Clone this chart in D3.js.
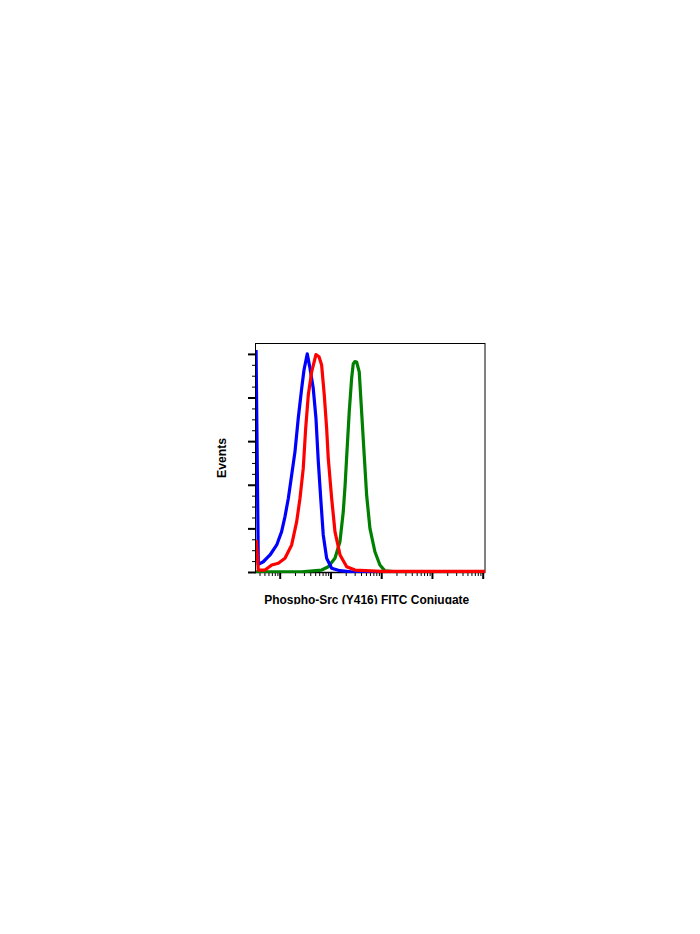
<!DOCTYPE html>
<html>
<head>
<meta charset="utf-8">
<script src="https://cdn.jsdelivr.net/npm/d3@7"></script>
<style>
  html, body { margin: 0; padding: 0; background: #fff; }
  svg { display: block; }
</style>
</head>
<body>
<svg id="chart" width="700" height="934"></svg>
<script>
// ---- data (fluorescence intensity, % of max) ----
const blueX  = [3.42, 3.79, 4.75, 6.44, 8.73, 10.9, 12.7, 14.8, 17.2, 20.0, 23.2, 27.1, 30.1, 34.9, 39.5, 45.8, 51.8, 57.6, 65.0, 72.1, 84.1, 105.6, 153.8, 281, 1000, 111000];
const blueY  = [101.8, 3.5, 4.7, 7.8, 12.4, 18.5, 25.4, 33.8, 44.5, 55.2, 70.5, 84.2, 92.6, 100, 93.4, 84.2, 70.5, 50.6, 32.2, 17.0, 6.3, 1.7, 0.6, 0, 0, 0];

const redX   = [3.45, 3.79, 5.14, 6.96, 9.39, 12.7, 17.2, 21.6, 25.1, 29.1, 32.5, 36.6, 42.6, 51.8, 59.5, 67.0, 75.5, 84.1, 90.4, 105.6, 122.7, 154.5, 208.9, 304.9, 1000, 111000];
const redY   = [14.7, 0.9, 0.9, 3.2, 4.0, 6.3, 12.4, 23.1, 33.8, 47.5, 65.9, 81.2, 91.8, 99.7, 98.7, 94.9, 81.2, 65.9, 52.3, 33.8, 18.5, 7.8, 2.4, 0.9, 0.3, 0.3];

const greenX = [3.42, 27.1, 67.1, 90.6, 122.7, 153.8, 178.6, 194.5, 209.5, 234.5, 261.3, 281.1, 303.5, 327.9, 369, 411, 462.5, 516, 599.5, 751.8, 942.6, 1183, 2000, 111000];
const greenY = [0.1, 0.1, 0.9, 2.4, 6.3, 13.9, 27.5, 39.9, 53.6, 73.5, 88.8, 95.4, 96.5, 96.3, 91.8, 73.5, 53.6, 35.3, 20.0, 9.3, 3.2, 0.5, 0.1, 0.1];

const xMajorTicks = [10, 100, 1000, 10000, 100000];
const yMajorTicks = [0, 20, 40, 60, 80, 100];
const yMinorTicks = [5, 10, 15, 25, 30, 35, 45, 50, 55, 65, 70, 75, 85, 90, 95];

const xLabel = "Phospho-Src (Y416) FITC Conjugate";
const yLabel = "Events";

// ---- drawing ----
(function () {
const svg = d3.select("#chart");
svg.append("rect").attr("width", 700).attr("height", 934).attr("fill", "#fff");

const pL = 256, pR = 485, pT = 343, pB = 572;
const x = d3.scaleLog().domain([3.41, 111000]).range([pL, pR]);
const y = d3.scaleLinear().domain([0, 105]).range([pB, pT]);

// minor x ticks: k * 10^n inside domain
const xMinorTicks = [];
for (let e = 0; e <= 5; e++) {
  for (let k = 2; k <= 9; k++) {
    const v = k * Math.pow(10, e);
    if (v >= x.domain()[0] && v <= x.domain()[1]) xMinorTicks.push(v);
  }
}

// clip for curves
svg.append("clipPath").attr("id", "plotclip")
  .append("rect").attr("x", pL).attr("y", pT - 2).attr("width", pR - pL).attr("height", pB - pT + 3);

// x axis (major & minor)
svg.append("g").attr("transform", `translate(0,${pB})`)
  .call(d3.axisBottom(x).tickValues(xMinorTicks).tickSize(4).tickFormat(""))
  .call(g => g.select(".domain").remove())
  .call(g => g.selectAll(".tick line").attr("stroke", "#000").attr("stroke-width", 1));
svg.append("g").attr("transform", `translate(0,${pB})`)
  .call(d3.axisBottom(x).tickValues(xMajorTicks).tickSize(7).tickFormat(""))
  .call(g => g.select(".domain").remove())
  .call(g => g.selectAll(".tick line").attr("stroke", "#000").attr("stroke-width", 2));

// y axis (major & minor)
svg.append("g").attr("transform", `translate(${pL},0)`)
  .call(d3.axisLeft(y).tickValues(yMinorTicks).tickSize(4).tickFormat(""))
  .call(g => g.select(".domain").remove())
  .call(g => g.selectAll(".tick line").attr("stroke", "#000").attr("stroke-width", 1));
svg.append("g").attr("transform", `translate(${pL},0)`)
  .call(d3.axisLeft(y).tickValues(yMajorTicks).tickSize(8).tickFormat(""))
  .call(g => g.select(".domain").remove())
  .call(g => g.selectAll(".tick line").attr("stroke", "#000").attr("stroke-width", 2));

// frame
svg.append("rect")
  .attr("x", pL - 0.5).attr("y", pT + 0.5)
  .attr("width", pR - pL + 0.5).attr("height", pB - pT)
  .attr("fill", "none").attr("stroke", "#000").attr("stroke-width", 1);
svg.append("line").attr("x1", pL - 0.5).attr("x2", pR).attr("y1", pB + 0.5).attr("y2", pB + 0.5)
  .attr("stroke", "#000").attr("stroke-width", 1.5);

// curves
const line = d3.line().x(d => x(d[0])).y(d => y(d[1]));
const series = [
  { xs: greenX, ys: greenY, color: "#008000" },
  { xs: blueX,  ys: blueY,  color: "#0000ff" },
  { xs: redX,   ys: redY,   color: "#ff0000" }
];
const gc = svg.append("g").attr("clip-path", "url(#plotclip)");
series.forEach(s => {
  const pts = s.xs.map((v, i) => [v, s.ys[i]]);
  gc.append("path").datum(pts)
    .attr("d", line)
    .attr("fill", "none")
    .attr("stroke", s.color)
    .attr("stroke-width", 3.2)
    .attr("stroke-linejoin", "round");
});

// labels
svg.append("clipPath").attr("id", "labelclip")
  .append("rect").attr("x", 0).attr("y", 580).attr("width", 700).attr("height", 24.3);
svg.append("text")
  .attr("clip-path", "url(#labelclip)")
  .attr("x", 366.7).attr("y", 604)
  .attr("text-anchor", "middle")
  .attr("font-family", "Liberation Sans, Arial, sans-serif")
  .attr("font-weight", "bold").attr("font-size", 13)
  .attr("textLength", 205).attr("lengthAdjust", "spacingAndGlyphs")
  .attr("fill", "#000")
  .text(xLabel);

svg.append("text")
  .attr("transform", `translate(226,458) rotate(-90)`)
  .attr("text-anchor", "middle")
  .attr("font-family", "Liberation Sans, Arial, sans-serif")
  .attr("font-weight", "bold").attr("font-size", 13)
  .attr("textLength", 40).attr("lengthAdjust", "spacingAndGlyphs")
  .attr("fill", "#000")
  .text(yLabel);
})();
</script>
</body>
</html>
